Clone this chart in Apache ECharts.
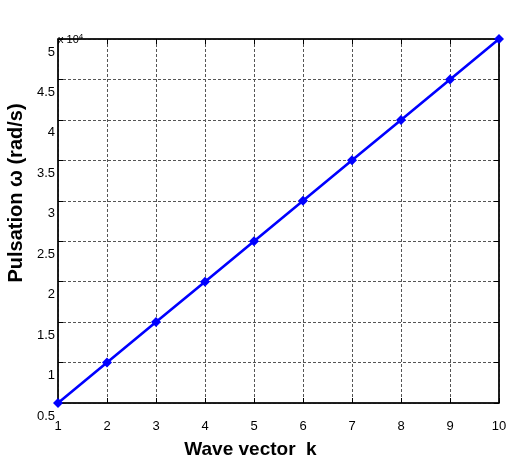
<!DOCTYPE html>
<html>
<head>
<meta charset="utf-8">
<script src="https://cdn.jsdelivr.net/npm/echarts@6/dist/echarts.min.js"></script>
<style>
html,body{margin:0;padding:0;background:#fff;}
#chart{width:506px;height:461px;}
</style>
</head>
<body>
<div id="chart"></div>
<script>
// Data (omega in units of 1e4 rad/s)
const waveVector = [1, 2, 3, 4, 5, 6, 7, 8, 9, 10];
const pulsation = [0.5, 1.0, 1.5, 2.0, 2.5, 3.0, 3.5, 4.0, 4.5, 5.0];
const xTitle = 'Wave vector  k';
const yTitle = 'Pulsation \u03C9 (rad/s)';
const yScaleLabel = 'x 10{s|4}';

const FONT = "'Liberation Sans', Arial, Helvetica, sans-serif";
const chart = echarts.init(document.getElementById('chart'));

const gridLine = { show: true, lineStyle: { color: '#555', width: 1, type: [3, 2] } };

chart.setOption({
  animation: false,
  backgroundColor: '#fff',
  grid: { left: 58, right: 7, top: 39, bottom: 58, containLabel: false, outerBoundsMode: 'none',
          show: true, borderColor: '#000', borderWidth: 1, backgroundColor: 'transparent' },
  xAxis: [{
    type: 'value', min: 1, max: 10, interval: 1,
    axisLine: { show: true, onZero: false, lineStyle: { color: '#000', width: 1.5 } },
    axisTick: { show: true, inside: true, length: 5, lineStyle: { color: '#000' } },
    axisLabel: { color: '#000', fontFamily: FONT, fontSize: 13, margin: 17 },
    splitLine: gridLine,
    name: xTitle, nameLocation: 'middle', nameGap: 37,
    nameTextStyle: { color: '#000', fontFamily: FONT, fontSize: 19, fontWeight: 'bold', padding: [0, 56, 0, 0] }
  }, {
    type: 'value', min: 1, max: 10, interval: 1, position: 'top',
    axisLine: { show: true, lineStyle: { color: '#000', width: 1.5 } },
    axisTick: { show: true, inside: true, length: 5, lineStyle: { color: '#000' } },
    axisLabel: { show: false }, splitLine: { show: false }
  }],
  yAxis: [{
    type: 'value', min: 0.5, max: 5, interval: 0.5,
    axisLine: { show: true, onZero: false, lineStyle: { color: '#000', width: 1.5 } },
    axisTick: { show: true, inside: true, length: 5, lineStyle: { color: '#000' } },
    axisLabel: { color: '#000', fontFamily: FONT, fontSize: 13, margin: 3, verticalAlign: 'top', lineHeight: 26 },
    splitLine: gridLine,
    name: yTitle, nameLocation: 'middle', nameGap: 25,
    nameTextStyle: { color: '#000', fontFamily: FONT, fontSize: 20, fontWeight: 'bold', padding: [0, 0, 0, 56] }
  }, {
    type: 'value', min: 0.5, max: 5, interval: 0.5, position: 'right',
    axisLine: { show: true, lineStyle: { color: '#000', width: 1.5 } },
    axisTick: { show: true, inside: true, length: 5, lineStyle: { color: '#000' } },
    axisLabel: { show: false }, splitLine: { show: false }
  }, {
    type: 'value', min: 0.5, max: 5, interval: 0.5, position: 'left',
    axisLine: { show: false }, axisTick: { show: false },
    axisLabel: { show: false }, splitLine: { show: false },
    name: yScaleLabel, nameLocation: 'end', nameGap: -1,
    nameTextStyle: { color: '#000', fontFamily: FONT, fontSize: 11, align: 'left', verticalAlign: 'middle',
      rich: { s: { fontSize: 8, verticalAlign: 'top', fontFamily: FONT, color: '#000', padding: [0, 0, 6, 0] } } }
  }],
  series: [{
    type: 'line',
    data: waveVector.map((k, i) => [k, pulsation[i]]),
    symbol: 'diamond', symbolSize: 10,
    lineStyle: { color: '#0000ff', width: 2.6 },
    itemStyle: { color: '#0000ff' },
    clip: false
  }]
});
</script>
</body>
</html>
